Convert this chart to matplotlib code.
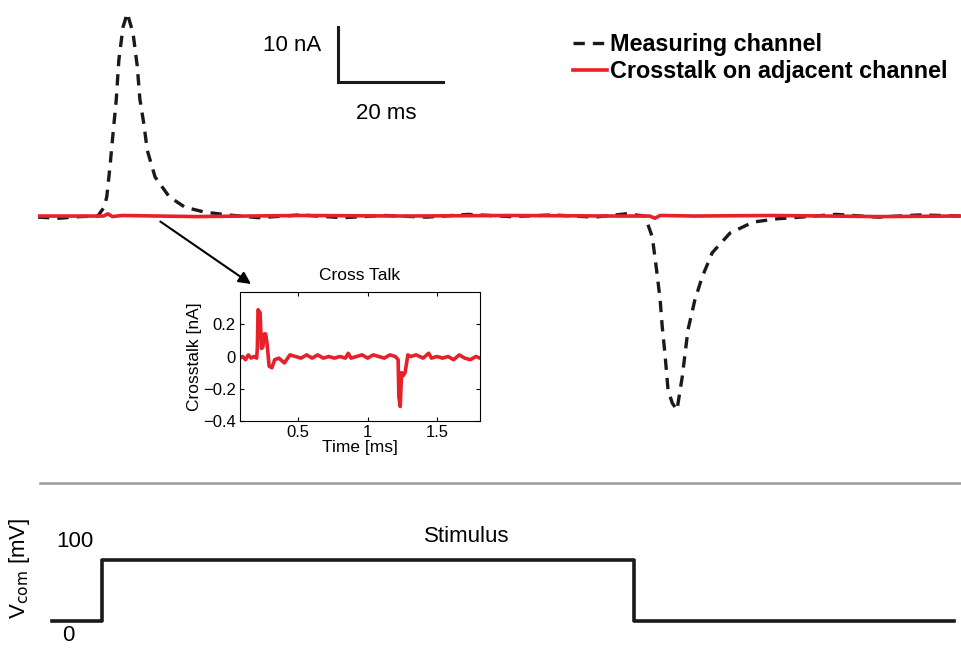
import matplotlib.pyplot as plt

plt.rcParams['font.family'] = ['Liberation Sans', 'DejaVu Sans']

# --- Data ---
# measuring channel (ms, nA)
meas_t = [0, 4, 8, 11.4, 12.6, 13.1, 13.7, 14.3, 14.9, 15.4, 16.2, 17.0,
          18.1, 18.9, 19.4, 20.2, 20.8, 22.3, 25.0, 28.0, 31.8, 36.2,
          42, 50, 58, 66, 74, 82, 90, 98, 106, 112,
          115.6, 117.0, 117.9, 118.5, 118.9, 119.4, 120.0, 120.8, 121.7,
          122.7, 123.8, 125.1, 126.5, 128.4, 131.8, 136.2, 140.8, 145.1,
          152, 160, 168, 175.8]
meas_v = [-0.2, -0.4, -0.1, 0, 1.6, 3.5, 8.9, 15.1, 21.1, 28.4, 34.4, 36.9,
          33.3, 27.3, 21.3, 16.5, 12.0, 7.1, 3.5, 1.6, 0.7, 0.2,
          -0.3, 0.2, -0.3, 0.1, -0.2, 0.3, -0.1, 0.2, -0.2, 0.4,
          0, -3.8, -10.4, -15.3, -20.2, -24.9, -31.6, -34.0, -35.3,
          -29.3, -20.7, -15.3, -11.1, -6.7, -3.1, -1.1, -0.5, -0.2,
          0.3, -0.2, 0.2, 0]

# crosstalk on adjacent channel (ms, nA)
xt_t = [0, 10, 12.5, 13.3, 14.2, 16, 30, 50, 70, 90, 110, 116.5, 117.5,
        118.5, 125, 140, 160, 175.8]
xt_v = [0, 0, 0, 0.4, -0.1, 0.1, -0.1, 0.1, 0, 0.1, 0, 0, -0.4,
        0.1, 0, 0.1, -0.1, 0]

# inset: zoomed crosstalk (ms, nA)
ins_t = [0.08, 0.10, 0.12, 0.14, 0.16, 0.18, 0.20, 0.205, 0.21, 0.225,
         0.235, 0.245, 0.255, 0.265, 0.275, 0.29, 0.31, 0.33, 0.36, 0.40,
         0.44, 0.48, 0.52, 0.56, 0.60, 0.64, 0.68, 0.72, 0.76, 0.80,
         0.84, 0.86, 0.88, 0.92, 0.96, 1.00, 1.04, 1.08, 1.12, 1.16,
         1.20, 1.22, 1.225, 1.235, 1.245, 1.255, 1.27, 1.29, 1.31, 1.35,
         1.40, 1.44, 1.46, 1.50, 1.54, 1.58, 1.62, 1.66, 1.70, 1.74,
         1.78, 1.81]
ins_v = [-0.01, 0.0, -0.02, 0.01, -0.01, 0.0, -0.01, 0.05, 0.29, 0.27,
         0.05, 0.06, 0.14, 0.14, 0.08, -0.06, -0.07, -0.02, -0.01, -0.04,
         0.01, 0.0, -0.01, 0.01, -0.01, 0.01, -0.01, 0.0, -0.01, 0.0,
         -0.01, 0.02, -0.01, 0.0, 0.01, -0.01, 0.01, 0.0, -0.01, 0.01,
         0.0, -0.02, -0.25, -0.31, -0.10, -0.12, -0.10, 0.01, 0.0, 0.01,
         -0.01, 0.02, -0.01, 0.0, -0.01, 0.0, -0.02, 0.01, -0.01, -0.02,
         0.0, -0.01]

# stimulus (ms, mV)
stim_t = [2.7, 12.2, 12.2, 113.5, 113.5, 174.5]
stim_v = [0, 0, 100, 100, 0, 0]

red = "#e8202a"
W, H = 961, 652


def box(x0, y0, x1, y1):
    # pixel box (top-left origin) -> figure fraction rect
    return [x0 / W, 1 - y1 / H, (x1 - x0) / W, (y1 - y0) / H]


fig = plt.figure(figsize=(9.61, 6.52), dpi=100)

# --- main traces ---
ax = fig.add_axes(box(38, 0, 961, 470))
ax.plot(meas_t, meas_v, color="#1a1a1a", lw=2.4, ls=(0, (3.4, 2.4)),
        label="Measuring channel")
ax.plot(xt_t, xt_v, color=red, lw=2.6, label="Crosstalk on adjacent channel")
ax.set_xlim(0, 175.8)
ax.set_ylim(-46.2, 39.3)
ax.axis("off")

# scale bar: 20 ms x 10 nA
ax.plot([57.1, 57.1, 77.1], [34.4, 24.4, 24.4], color="#1a1a1a", lw=2.2,
        solid_joinstyle="miter")
ax.text(54.0, 31.0, "10 nA", ha="right", va="center", fontsize=16)
ax.text(66.4, 18.6, "20 ms", ha="center", va="center", fontsize=16)

leg = ax.legend(loc="upper left", bbox_to_anchor=(557 / W, 1 - 17 / H),
                bbox_transform=fig.transFigure, frameon=False,
                handlelength=1.45, handletextpad=0.12, labelspacing=0.15,
                borderpad=0.2, prop={"weight": "bold", "size": 16.8})

# arrow to inset
ax.annotate("", xy=(251 / W, 1 - 284 / H), xycoords="figure fraction",
            xytext=(23.3, -1.0), textcoords="data",
            arrowprops=dict(arrowstyle="-|>", color="black", lw=1.5,
                            mutation_scale=18, shrinkA=0, shrinkB=0))

# --- inset ---
ins = fig.add_axes(box(240, 292, 480, 421))
ins.plot(ins_t, ins_v, color=red, lw=2.6)
ins.set_xlim(0.08, 1.81)
ins.set_ylim(-0.4, 0.4)
ins.set_xticks([0.5, 1, 1.5])
ins.set_xticklabels(["0.5", "1", "1.5"])
ins.set_yticks([-0.4, -0.2, 0, 0.2])
ins.set_yticklabels(["\u22120.4", "\u22120.2", "0", "0.2"])
ins.tick_params(direction="in", length=3, labelsize=12, pad=3, top=True, right=True)
ins.set_title("Cross Talk", fontsize=12.5, pad=9)
ins.set_xlabel("Time [ms]", fontsize=12.5, labelpad=0)
ins.set_ylabel("Crosstalk [nA]", fontsize=12.5, labelpad=1)
for s in ins.spines.values():
    s.set_linewidth(0.8)

# separator
fig.add_artist(plt.Line2D([40 / W, 1.0], [1 - 483 / H] * 2,
                          transform=fig.transFigure, color="#9a9a9a", lw=1.8))

# --- stimulus ---
sx = fig.add_axes(box(38, 490, 961, 652))
sx.plot(stim_t, stim_v, color="#1a1a1a", lw=2.6)
sx.set_xlim(0, 175.8)
sx.set_ylim(-50.8, 214.8)
sx.axis("off")
sx.text(81.7, 138, "Stimulus", ha="center", va="center", fontsize=16)
sx.text(7.1, 131, "100", ha="center", va="center", fontsize=16)
sx.text(5.7, -23, "0", ha="center", va="center", fontsize=16)
fig.text(20 / W, 1 - 568 / H, r"V$_{\mathrm{com}}$ [mV]", rotation=90,
         ha="center", va="center", fontsize=16)

fig.savefig("out.png", dpi=100)
